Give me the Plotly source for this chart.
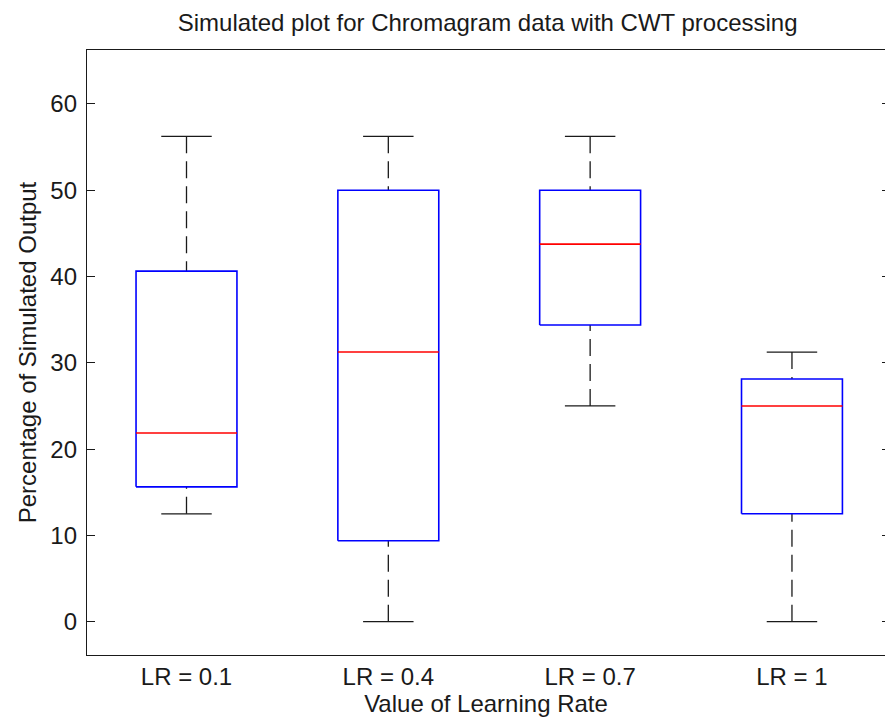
import plotly.graph_objects as go

# Box-plot summary statistics per learning rate (percent of simulated output)
categories = ["LR = 0.1", "LR = 0.4", "LR = 0.7", "LR = 1"]
lower_whisker = [12.5, 0.0, 25.0, 0.0]
q1 = [15.625, 9.375, 34.375, 12.5]
median = [21.875, 31.25, 43.75, 25.0]
q3 = [40.625, 50.0, 50.0, 28.125]
upper_whisker = [56.25, 56.25, 56.25, 31.25]
y_ticks = [0, 10, 20, 30, 40, 50, 60]

positions = list(range(1, len(categories) + 1))
BOX_HALF = 0.25
CAP_HALF = 0.125

box_x, box_y = [], []
med_x, med_y = [], []
wh_x, wh_y = [], []
cap_x, cap_y = [], []
for p, lo, a, m, b, hi in zip(positions, lower_whisker, q1, median, q3, upper_whisker):
    box_x += [p - BOX_HALF, p + BOX_HALF, p + BOX_HALF, p - BOX_HALF, p - BOX_HALF, None]
    box_y += [a, a, b, b, a, None]
    med_x += [p - BOX_HALF, p + BOX_HALF, None]
    med_y += [m, m, None]
    wh_x += [p, p, None, p, p, None]
    wh_y += [hi, b, None, lo, a, None]
    cap_x += [p - CAP_HALF, p + CAP_HALF, None, p - CAP_HALF, p + CAP_HALF, None]
    cap_y += [hi, hi, None, lo, lo, None]

FONT = "Liberation Sans, Arial, sans-serif"
INK = "#1a1a1a"
FS = 24

fig = go.Figure()
fig.add_trace(go.Scatter(x=wh_x, y=wh_y, mode="lines",
                         line=dict(color=INK, width=1.3, dash="17px,8px"),
                         hoverinfo="skip"))
fig.add_trace(go.Scatter(x=cap_x, y=cap_y, mode="lines",
                         line=dict(color=INK, width=1.3), hoverinfo="skip"))
fig.add_trace(go.Scatter(x=box_x, y=box_y, mode="lines",
                         line=dict(color="#0000ff", width=1.6), hoverinfo="skip"))
fig.add_trace(go.Scatter(x=med_x, y=med_y, mode="lines",
                         line=dict(color="#ff0000", width=1.6), hoverinfo="skip"))
# invisible trace carrying the right-hand tick axis
fig.add_trace(go.Scatter(x=[None], y=[None], yaxis="y2", showlegend=False))

fig.update_layout(
    width=885, height=717,
    margin=dict(l=87, r=0, t=50, b=62),
    paper_bgcolor="white", plot_bgcolor="white",
    showlegend=False,
    font=dict(family=FONT, size=FS, color=INK),
    title=dict(text="Simulated plot for Chromagram data with CWT processing",
               x=0.551, xanchor="center", y=0.969, yanchor="middle",
               font=dict(family=FONT, size=FS, color=INK)),
    xaxis=dict(range=[0.507, 4.461], tickmode="array", tickvals=positions,
               ticktext=categories, ticks="", showgrid=False, zeroline=False,
               showline=True, linecolor=INK, linewidth=1.3, mirror=True,
               tickfont=dict(size=FS), ticklabelstandoff=0,
               title=dict(text="Value of Learning Rate", standoff=0,
                          font=dict(size=FS))),
    yaxis=dict(range=[-3.86, 66.25], tickmode="array", tickvals=y_ticks,
               ticks="inside", ticklen=8, tickcolor=INK, tickwidth=1.3,
               showgrid=False, zeroline=False, showline=True, linecolor=INK,
               linewidth=1.3, tickfont=dict(size=FS), ticklabelstandoff=4,
               title=dict(text="Percentage of Simulated Output", standoff=6,
                          font=dict(size=FS))),
    yaxis2=dict(range=[-3.86, 66.25], overlaying="y", side="right",
                anchor="free", position=1, tickmode="array", tickvals=y_ticks,
                ticks="inside", ticklen=3, tickcolor=INK, tickwidth=1.3,
                showticklabels=False, showgrid=False, zeroline=False,
                showline=False),
)

fig.write_html("out.html")
